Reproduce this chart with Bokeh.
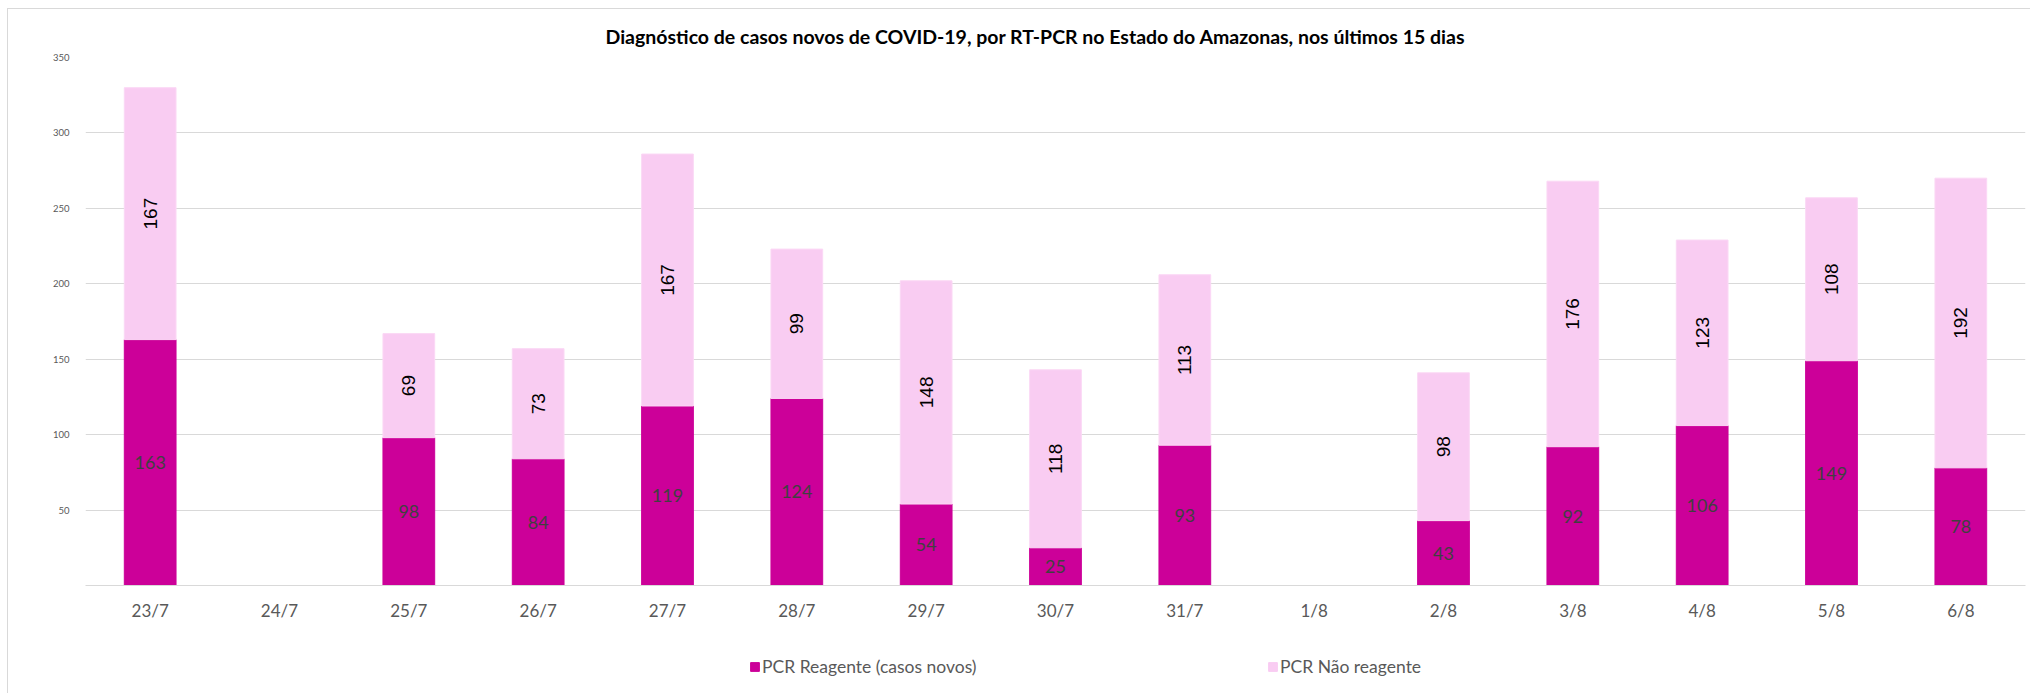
import numpy as np
from bokeh.plotting import figure
from bokeh.layouts import column
from bokeh.models import (ColumnDataSource, FactorRange, Range1d, FixedTicker,
                          Legend, LegendItem)
from bokeh.core.properties import value
from bokeh.embed import file_html
from bokeh.resources import INLINE

# ---- data ----
dates = ["23/7", "24/7", "25/7", "26/7", "27/7", "28/7", "29/7", "30/7",
         "31/7", "1/8", "2/8", "3/8", "4/8", "5/8", "6/8"]
reagente = [163, None, 98, 84, 119, 124, 54, 25, 93, None, 43, 92, 106, 149, 78]
nao_reagente = [167, None, 69, 73, 167, 99, 148, 118, 113, None, 98, 176, 123, 108, 192]
series_names = ["PCR Reagente (casos novos)", "PCR Não reagente"]
series_colors = ["#CC0099", "#F9CCF2"]
y_ticks = [50, 100, 150, 200, 250, 300, 350]
title_text = ("Diagnóstico de casos novos de COVID-19, por RT-PCR no Estado do "
              "Amazonas, nos últimos 15 dias")

r_arr = np.array([np.nan if v is None else v for v in reagente], dtype=float)
n_arr = np.array([np.nan if v is None else v for v in nao_reagente], dtype=float)

src = ColumnDataSource(dict(date=dates, reag=r_arr, nreag=n_arr))

p = figure(width=2023, height=631, x_range=FactorRange(factors=dates),
           y_range=Range1d(0, 350), output_backend="svg", toolbar_location=None,
           min_border_left=77, min_border_right=6, min_border_top=48,
           min_border_bottom=55,
           margin=(8, 0, 0, 7),
           styles={"border-left": "1px solid #D9D9D9",
                   "border-top": "1px solid #D9D9D9"})
p.background_fill_color = "white"
p.border_fill_color = "white"
p.outline_line_color = None

p.title.text = title_text
p.title.align = "left"
p.title.offset = 520
p.title.text_font = "Lato"
p.title.text_font_style = "bold"
p.title.text_font_size = "19.5px"
p.title.text_color = "#000000"
p.title.standoff = 19

rends = p.vbar_stack(["reag", "nreag"], x="date", width=0.4, source=src,
                     color=series_colors, line_color=["#CC0099", "#FBD8F5"],
                     line_width=1)

# labels
mask = ~np.isnan(r_arr)
lab_src1 = ColumnDataSource(dict(
    date=[d for d, m in zip(dates, mask) if m],
    y=list(r_arr[mask] / 2),
    txt=[str(int(v)) for v in r_arr[mask]]))
lab_src2 = ColumnDataSource(dict(
    date=[d for d, m in zip(dates, mask) if m],
    y=list(r_arr[mask] + n_arr[mask] / 2),
    txt=[str(int(v)) for v in n_arr[mask]]))
p.text(x="date", y="y", text="txt", source=lab_src1, text_align="center",
       text_baseline="middle", text_font=value("Lato"), text_font_size="18px",
       text_color="#404040")
p.text(x="date", y="y", text="txt", source=lab_src2, text_align="center",
       text_baseline="middle", text_font=value("Liberation Sans"),
       text_font_size="19px", text_color="#000000", angle=np.pi / 2)

# axes
p.xaxis.axis_line_color = "#D9D9D9"
p.xaxis.major_tick_line_color = None
p.xaxis.minor_tick_line_color = None
p.xaxis.major_label_text_font = "Lato"
p.xaxis.major_label_text_font_size = "17px"
p.xaxis.major_label_text_color = "#595959"
p.xaxis.major_label_standoff = 8

p.yaxis.ticker = FixedTicker(ticks=y_ticks)
p.yaxis.axis_line_color = None
p.yaxis.major_tick_line_color = None
p.yaxis.minor_tick_line_color = None
p.yaxis.major_label_text_font = "Lato"
p.yaxis.major_label_text_font_size = "9.5px"
p.yaxis.major_label_text_color = "#595959"
p.yaxis.major_label_standoff = 10

p.xgrid.grid_line_color = None
p.ygrid.grid_line_color = "#D9D9D9"
p.ygrid.grid_line_width = 1

# ---- legend strip ----
leg = figure(width=2023, height=54, x_range=Range1d(0, 1), y_range=Range1d(0, 1),
             output_backend="svg", toolbar_location=None,
             x_axis_type=None, y_axis_type=None, min_border=0,
             margin=(0, 0, 0, 7),
             styles={"border-left": "1px solid #D9D9D9"})
leg.outline_line_color = None
leg.xgrid.grid_line_color = None
leg.ygrid.grid_line_color = None
leg.background_fill_color = "white"
leg.border_fill_color = "white"
# swatch renderers for the legend (bar heights left undefined, so not drawn)
lr = [leg.vbar(x=[0.5], top=[np.nan], width=0.4, color=c) for c in series_colors]

legend = Legend(items=[LegendItem(label=series_names[0], renderers=[lr[0]]),
                       LegendItem(label=series_names[1], renderers=[lr[1]])],
                orientation="horizontal", location=(664, 16),
                glyph_width=11, glyph_height=11, label_standoff=2, spacing=0,
                label_width=505, padding=0, margin=0,
                border_line_color=None, background_fill_alpha=0,
                label_text_font="Lato", label_text_font_size="17.5px",
                label_text_color="#595959")
leg.add_layout(legend, "center")

layout = column(p, leg, spacing=0)
open("out.html", "w").write(file_html(layout, INLINE))
